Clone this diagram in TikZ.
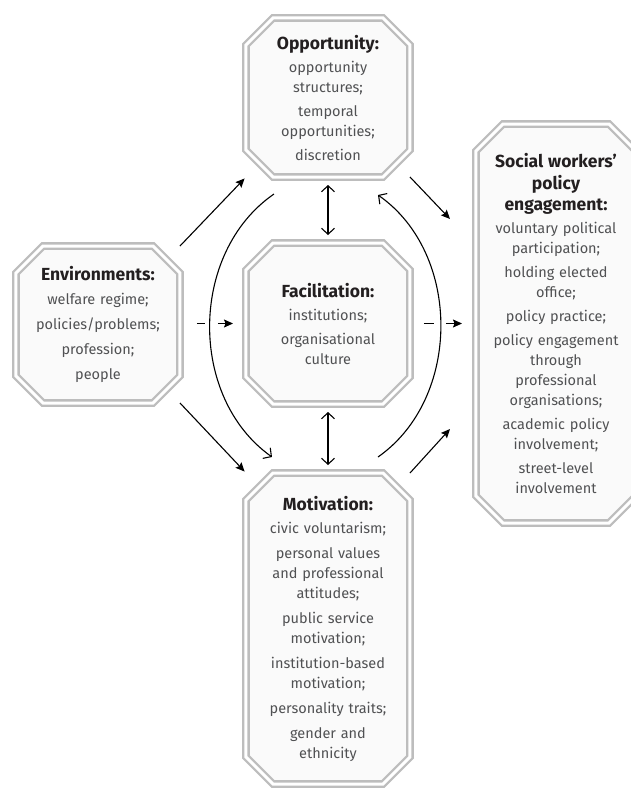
\documentclass[tikz,border=0pt]{standalone}
\usepackage{fontspec}
\setmainfont{Fira Sans}
\usetikzlibrary{positioning,arrows.meta,backgrounds}

\definecolor{framegrey}{HTML}{BDBDBD}
\definecolor{boxfill}{HTML}{FAFAFA}
\definecolor{bodygrey}{HTML}{505153}
\definecolor{headgrey}{HTML}{231F20}

% bold heading line of a box
\newcommand{\hd}[1]{{\fontsize{17.5}{21}\selectfont\bfseries\color{headgrey}#1}}
% chamfer of the octagon frames
\newcommand{\cham}{27pt}
\newcommand{\octbox}[1]{%
  \draw[octframe] ([xshift=\cham]#1.north west) -- ([xshift=-\cham]#1.north east)
    -- ([yshift=-\cham]#1.north east) -- ([yshift=\cham]#1.south east)
    -- ([xshift=-\cham]#1.south east) -- ([xshift=\cham]#1.south west)
    -- ([yshift=\cham]#1.south west) -- ([yshift=-\cham]#1.north west) -- cycle;}

\tikzset{
  box/.style={rectangle, inner sep=0pt, outer sep=0pt, text width=156pt,
    align=center, font=\fontsize{14.5}{20}\selectfont, text=bodygrey,
    minimum width=164pt},
  octframe/.style={draw=framegrey, line width=2.3pt, double=white,
    double distance=3pt, fill=boxfill},
  arr/.style={-{Stealth[length=9pt,width=8pt,inset=1.5pt]}, line width=1.1pt},
  dasharr/.style={arr, dash pattern=on 8pt off 13pt on 200pt},
  curvearr/.style={-{Straight Barb[length=6pt,width=13pt]}, line width=1.1pt},
  bidir/.style={{Straight Barb[length=6pt,width=13pt]}-{Straight Barb[length=6pt,width=13pt]},
    line width=1.1pt, shorten <=8pt, shorten >=8pt},
}

\begin{document}
\begin{tikzpicture}[x=1pt, y=1pt]

  \useasboundingbox (-328,-464.5) rectangle (302,323.5);

  % Boxes
  \node[box, minimum height=161pt] (fac)
    {\hd{Facilitation:}\\[3pt] institutions;\\[4pt] organisational\\culture};
  \node[box, minimum height=159pt, above=66pt of fac] (opp)
    {\hd{Opportunity:}\\[3pt] opportunity\\structures;\\[4pt] temporal\\opportunities;\\[4pt] discretion};
  \node[box, minimum height=311pt, below=66pt of fac, yshift=-3pt] (mot)
    {\hd{Motivation:}\\[3pt] civic voluntarism;\\[5pt] personal values\\and professional\\attitudes;\\[5pt]
     public service\\motivation;\\[5pt] institution-based\\motivation;\\[5pt] personality traits;\\[5pt]
     gender and\\ethnicity};
  \node[box, minimum height=157pt, left=66pt of fac, yshift=-1pt] (env)
    {\hd{Environments:}\\[4pt] welfare regime;\\[5pt] policies/problems;\\[5pt] profession;\\[5pt] people};
  \node[box, minimum height=399pt, minimum width=160pt, right=66pt of fac] (soc)
    {\hd{Social workers’\\[1pt]policy\\[1pt]engagement:}\\[3pt] voluntary political\\participation;\\[4pt]
     holding elected\\office;\\[4pt] policy practice;\\[4pt] policy engagement\\through\\professional\\organisations;\\[4pt]
     academic policy\\involvement;\\[4pt] street-level\\involvement};

  % Frames
  \begin{scope}[on background layer]
    \foreach \n in {fac,opp,mot,env,soc} {\octbox{\n}}
  \end{scope}

  % Free ends of the arrows into the right box
  \coordinate (socup) at ([xshift=-26pt,yshift=-95pt]soc.north west);
  \coordinate (soclow) at ([xshift=-26pt,yshift=94pt]soc.south west);

  % Connect the boxes
  \draw[arr, shorten >=2pt] (env.north east) -- (opp.south west);
  \draw[arr, shorten >=2pt] (env.south east) -- (mot.north west);
  \draw[arr] (opp.south east) -- (socup);
  \draw[arr] (mot.north east) -- (soclow);
  \draw[dasharr, shorten <=17pt, shorten >=13pt] (fac.west -| env.east) -- (fac.west);
  \draw[dasharr, dash pattern=on 10pt off 12pt on 200pt, shorten <=14pt, shorten >=14pt] (fac) -- (soc);
  \draw[bidir] (opp) -- (fac);
  \draw[bidir] (fac) -- (mot);

  % Feedback arcs
  \draw[curvearr] ([shift={(28,-17)}]opp.south west) to[bend right=55] ([shift={(26,16)}]mot.north west);
  \draw[curvearr] ([shift={(-32,16)}]mot.north east) to[bend right=55] ([shift={(-32,-18)}]opp.south east);

\end{tikzpicture}
\end{document}
